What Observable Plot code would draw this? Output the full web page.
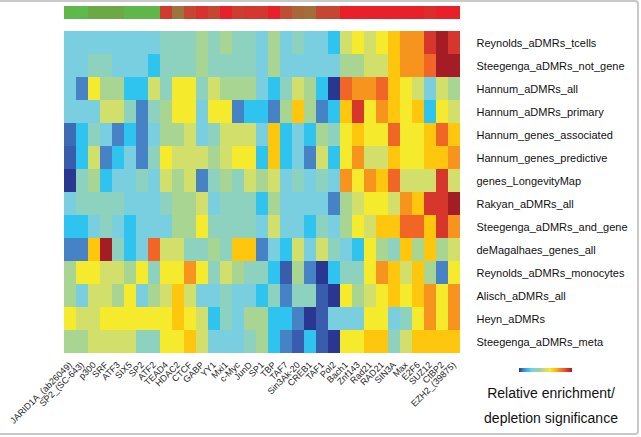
<!DOCTYPE html>
<html>
<head>
<meta charset="utf-8">
<script src="https://cdn.jsdelivr.net/npm/d3@7"></script>
<script src="https://cdn.jsdelivr.net/npm/@observablehq/plot@0.6"></script>
<style>
  html, body { margin: 0; padding: 0; background: #fff; }
  #wrap { position: relative; width: 641px; height: 437px; overflow: hidden; font-family: "Liberation Sans", Arial, sans-serif; }
  #wrap svg { display: block; }
  .frame { position: absolute; left: -4px; top: 0; width: 643px; height: 435px; border: 2px solid #c9c9c9; border-radius: 4px; pointer-events: none; box-sizing: border-box; }
  .legtxt { position: absolute; left: 471px; width: 160px; text-align: center; font-size: 14px; line-height: 14px; color: #111; white-space: nowrap; }
  #ramp { position: absolute; left: 519px; top: 368px; width: 53px; height: 4px; }
</style>
</head>
<body>
<div id="wrap">
  <div id="bar"></div>
  <div id="heat"></div>
  <div id="ramp"></div>
  <div class="legtxt" style="top:386px">Relative enrichment/</div>
  <div class="legtxt" style="top:411px">depletion significance</div>
  <div class="frame"></div>
</div>
<script>
// Column (factor) labels
const columns = ["JARID1A_(ab26049)","SP2_(SC-643)","p300","SRF","ATF3","SIX5","SP2","ATF2","TEAD4","HDAC2","CTCF","GABP","YY1","Mxi1","c-Myc","JunD","SP1","TBP","TAF7","Sin3Ak-20","CREB1","TAF1","Pol2","Bach1","Znf143","Rad21","RAD21","SIN3A","Max","E2F6","SUZ12","CtBP2","EZH2_(39875)"];

// Row (dataset) labels
const rows = ["Reynolds_aDMRs_tcells","Steegenga_aDMRs_not_gene","Hannum_aDMRs_all","Hannum_aDMRs_primary","Hannum_genes_associated","Hannum_genes_predictive","genes_LongevityMap","Rakyan_aDMRs_all","Steegenga_aDMRs_and_gene","deMagalhaes_genes_all","Reynolds_aDMRs_monocytes","Alisch_aDMRs_all","Heyn_aDMRs","Steegenga_aDMRs_meta"];

// Top annotation bar score (0 = green group, 1 = red group)
const barScore = [0.02,0,0.12,0.12,0.12,0.03,0.03,0.03,0.83,0.45,0.75,0.88,0.75,1,0.8,0.85,0.85,1,0.7,0.55,0.5,0.75,0.75,1,1,1,1,1,1,1,0.93,1,1];

// Enrichment level per cell (0 = strong depletion ... 12 = strong enrichment)
const rReynoldsTcells      = [3,3,3,3,3,3,3,3,4,4,4,5,4,5,4,4,3, 5,3,4,3,3,2,6,7,6,7,8,9,9,11,12,11];
const rSteegengaNotGene    = [3,3,4,4,3,3,3,2,4,4,4,5,4,4,4,4,3, 5,3,3,3,3,3,5,5,6,6,8,9,9,10,12,12];
const rHannumAll           = [3,1,7,5,5,2,2,6,4,7,7,4,6,5,5,5,3, 2,4,6,5,2,0,10,9,9,10,8,7,6,3,6,5];
const rHannumPrimary       = [3,3,3,6,6,4,1,4,5,7,7,3,7,7,1,2,2, 1,5,8,5,1,2,8,11,7,9,8,7,8,2,7,6];
const rHannumAssociated    = [0.7,2,4,3,1,2,1,3,5,5,6,3,4,6,6,6,3, 8,2,3,2,5,4,7,8,7,7,10,7,7,8,10,8];
const rHannumPredictive    = [0.5,2,6,1,2,3,1,4,7,6,6,6,5,6,7,7,2, 8,2,3,1,6,2,7,9,6,6,8,7,7,8,8,9];
const rLongevityMap        = [0,4,5,2,3,3,4,3,6,5,6,1,4,5,4,6,5, 6,3,4,3,4,3,9,7,9,8,10,6,6,6,11,6];
const rRakyanAll           = [3,4,4,4,4,3,3,3,4,5,5,6,3,4,4,4,2, 5,3,3,3,3,1,5,6,7,7,6,9,8,11,11,12];
const rSteegengaAndGene    = [2,2,3,4,3,2,3,3,3,5,5,7,4,4,4,4,3, 6,3,3,2,4,3,5,7,6,8,8,10,10,8,11,9];
const rDeMagalhaes         = [1,1,8,12,4,2,3,10,6,6,4,4,5,4,8,8,1, 3,2,6,3,6,4,3,2,7,5,4,8,5,8,5,6];
const rReynoldsMonocytes   = [5,7,7,6,6,5,7,4,7,7,9,7,4,6,5,4,4, 2,0.5,5,1,0,2,4,4,7,9,8,6,8,5,1,7];
const rAlischAll           = [5,3,6,6,5,7,3,5,6,8,6,3,3,4,3,3,2, 4,1,4,4,0.5,0,7,5,6,7,8,7,8,9,7,9];
const rHeyn                = [7,6,6,7,7,7,7,7,7,8,7,6,2,4,3,5,5, 2,2,1,0,0.5,3,3,3,7,7,3,4,7,9,7,9];
const rSteegengaMeta       = [5,5,6,6,6,6,4,4,7,7,8,6,3,3,3,4,5, 2,1,0.5,2,0.5,0,7,7,8,8,4,6,8,8,8,8];

const rowValues = [rReynoldsTcells,rSteegengaNotGene,rHannumAll,rHannumPrimary,rHannumAssociated,rHannumPredictive,rLongevityMap,rRakyanAll,rSteegengaAndGene,rDeMagalhaes,rReynoldsMonocytes,rAlischAll,rHeyn,rSteegengaMeta];

const levelColors = ["#293792","#4583c6","#2fc3f0","#79cfdf","#8dd2be","#a9d592","#d2df6b","#f6ea2d","#fec60c","#f7941e","#f16626","#d6362b","#a51d24"];
const levels = d3.range(levelColors.length);

const cells = [];
rows.forEach((r, i) => rowValues[i].forEach((v, j) => cells.push({row: r, col: columns[j], v})));

const FONT = "Liberation Sans, Arial, sans-serif";

const barPlot = Plot.plot({
  width: 641, height: 26,
  marginLeft: 59, marginRight: 177, marginTop: 6, marginBottom: 7,
  style: {fontFamily: FONT, background: "transparent"},
  x: {domain: columns, padding: 0, axis: null},
  color: {type: "linear", domain: [0, 1], range: ["#5cbb4a", "#e8202a"], interpolate: "rgb"},
  marks: [
    Plot.cell(columns.map((c, i) => ({col: c, s: barScore[i]})), {x: "col", fill: "s", inset: 0, shapeRendering: "crispEdges"})
  ]
});
document.getElementById("bar").appendChild(barPlot);

const heatPlot = Plot.plot({
  width: 641, height: 411,
  marginLeft: 59, marginRight: 177, marginTop: 0, marginBottom: 79,
  style: {fontFamily: FONT, background: "transparent", overflow: "visible"},
  x: {domain: columns, padding: 0, label: null},
  y: {domain: rows, padding: 0, label: null},
  color: {type: "linear", domain: levels, range: levelColors},
  marks: [
    Plot.cell(cells, {x: "col", y: "row", fill: "v", inset: 0, shapeRendering: "crispEdges"}),
    Plot.axisX({anchor: "bottom", tickRotate: -45, tickSize: 0, tickPadding: 5, fontSize: 9, label: null, fill: "#222"}),
    Plot.axisY({anchor: "right", tickSize: 0, tickPadding: 12, fontSize: 11, label: null, fill: "#111"})
  ]
});
document.getElementById("heat").appendChild(heatPlot);

document.getElementById("ramp").style.background = "linear-gradient(to right," + levelColors.join(",") + ")";
</script>
</body>
</html>
